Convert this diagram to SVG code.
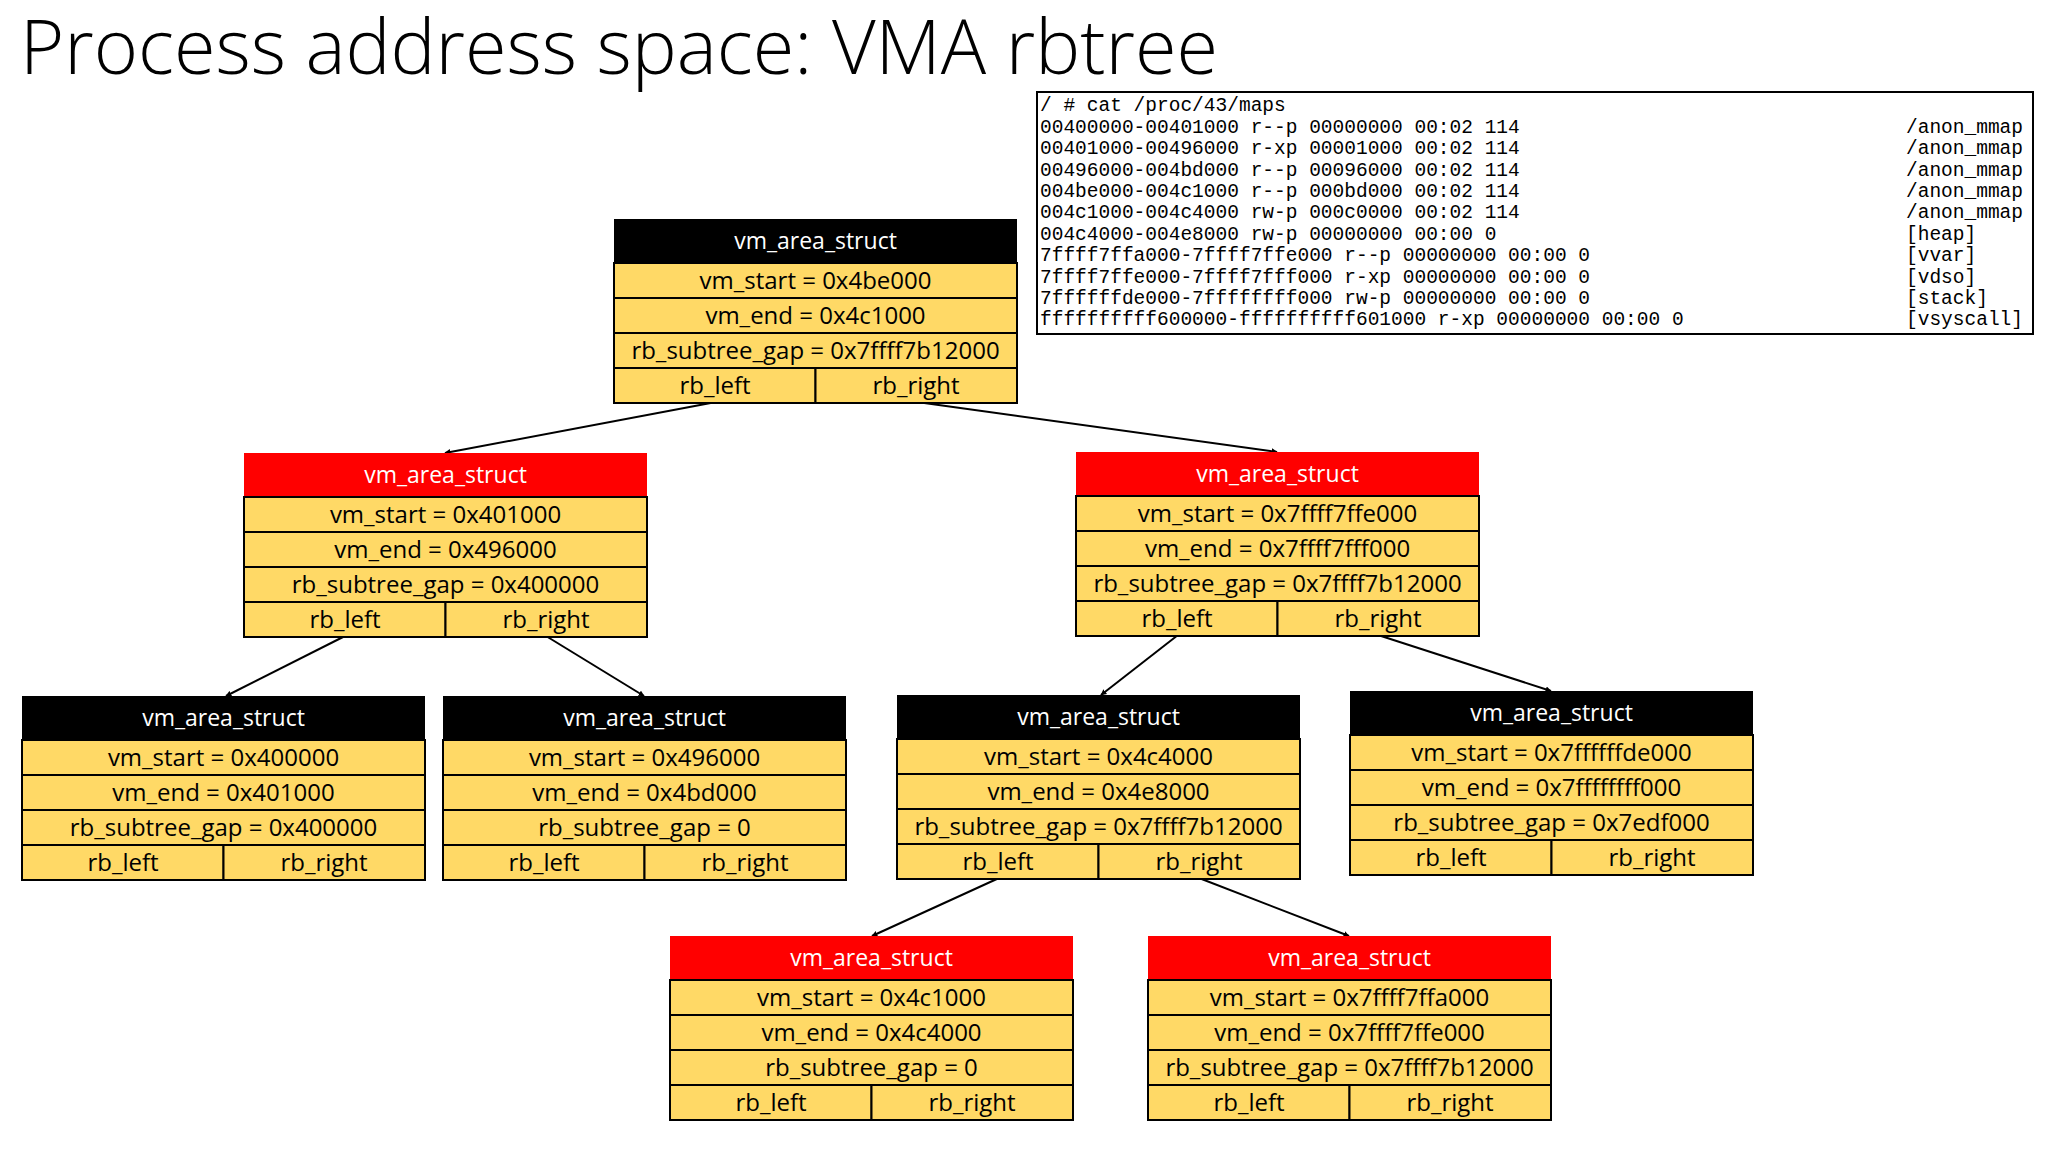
<svg xmlns="http://www.w3.org/2000/svg" width="2048" height="1152" viewBox="0 0 2048 1152">
<style>
.hb{fill:#000}.hr{fill:#ff0000}
.c{fill:#ffd966;stroke:#000;stroke-width:2}
.h{font-family:"Open Sans","Liberation Sans",sans-serif;font-size:23px;fill:#fff;text-anchor:middle}
.t{font-family:"Open Sans","Liberation Sans",sans-serif;font-size:24px;fill:#000;text-anchor:middle}
.m{font-family:"Liberation Mono",monospace;font-size:19.5px;fill:#000}
.e{stroke:#000;stroke-width:2;fill:none;marker-end:url(#a)}
</style>
<defs>
<marker id="a" viewBox="0 0 10 10" refX="9" refY="5" markerWidth="6" markerHeight="6" orient="auto" markerUnits="userSpaceOnUse"><path d="M0,0L10,5L0,10z" fill="#000"/></marker>
</defs>
<rect width="2048" height="1152" fill="#fff"/>
<text x="20" y="74" font-family="'Open Sans','Liberation Sans',sans-serif" font-weight="300" font-size="76" textLength="1198" lengthAdjust="spacingAndGlyphs">Process address space: VMA rbtree</text>
<g id="maps">
<rect x="1037" y="92" width="996" height="242" fill="#fff" stroke="#000" stroke-width="2"/>
<text class="m" x="1040" y="111">/ # cat /proc/43/maps</text>
<text class="m" x="1040" y="133">00400000-00401000 r--p 00000000 00:02 114</text>
<text class="m" x="1040" y="154">00401000-00496000 r-xp 00001000 00:02 114</text>
<text class="m" x="1040" y="176">00496000-004bd000 r--p 00096000 00:02 114</text>
<text class="m" x="1040" y="197">004be000-004c1000 r--p 000bd000 00:02 114</text>
<text class="m" x="1040" y="218">004c1000-004c4000 rw-p 000c0000 00:02 114</text>
<text class="m" x="1040" y="240">004c4000-004e8000 rw-p 00000000 00:00 0</text>
<text class="m" x="1040" y="261">7ffff7ffa000-7ffff7ffe000 r--p 00000000 00:00 0</text>
<text class="m" x="1040" y="283">7ffff7ffe000-7ffff7fff000 r-xp 00000000 00:00 0</text>
<text class="m" x="1040" y="304">7ffffffde000-7ffffffff000 rw-p 00000000 00:00 0</text>
<text class="m" x="1040" y="325">ffffffffff600000-ffffffffff601000 r-xp 00000000 00:00 0</text>
<text class="m" x="1906" y="133">/anon_mmap</text>
<text class="m" x="1906" y="154">/anon_mmap</text>
<text class="m" x="1906" y="176">/anon_mmap</text>
<text class="m" x="1906" y="197">/anon_mmap</text>
<text class="m" x="1906" y="218">/anon_mmap</text>
<text class="m" x="1906" y="240">[heap]</text>
<text class="m" x="1906" y="261">[vvar]</text>
<text class="m" x="1906" y="283">[vdso]</text>
<text class="m" x="1906" y="304">[stack]</text>
<text class="m" x="1906" y="325">[vsyscall]</text>
</g>
<g id="connectors">
<line class="e" x1="716" y1="402" x2="445" y2="453"/>
<line class="e" x1="917" y1="402" x2="1277" y2="452"/>
<line class="e" x1="345" y1="636" x2="226" y2="696"/>
<line class="e" x1="546" y1="636" x2="644" y2="696"/>
<line class="e" x1="1178" y1="635" x2="1101" y2="695"/>
<line class="e" x1="1378" y1="635" x2="1551" y2="691"/>
<line class="e" x1="999" y1="878" x2="872" y2="936"/>
<line class="e" x1="1199" y1="878" x2="1349" y2="936"/>
</g>
<g id="n1" transform="translate(614,219)">
<rect class="hb" width="403" height="44"/><text class="h" x="201.5" y="30">vm_area_struct</text>
<rect class="c" y="44" width="403" height="35"/><rect class="c" y="79" width="403" height="35"/><rect class="c" y="114" width="403" height="35"/><rect class="c" y="149" width="201.5" height="35"/><rect class="c" x="201.5" y="149" width="201.5" height="35"/>
<text class="t" x="201.5" y="70">vm_start = 0x4be000</text><text class="t" x="201.5" y="105">vm_end = 0x4c1000</text><text class="t" x="201.5" y="140">rb_subtree_gap = 0x7ffff7b12000</text><text class="t" x="101" y="175">rb_left</text><text class="t" x="302" y="175">rb_right</text>
</g>
<g id="n2" transform="translate(244,453)">
<rect class="hr" width="403" height="44"/><text class="h" x="201.5" y="30">vm_area_struct</text>
<rect class="c" y="44" width="403" height="35"/><rect class="c" y="79" width="403" height="35"/><rect class="c" y="114" width="403" height="35"/><rect class="c" y="149" width="201.5" height="35"/><rect class="c" x="201.5" y="149" width="201.5" height="35"/>
<text class="t" x="201.5" y="70">vm_start = 0x401000</text><text class="t" x="201.5" y="105">vm_end = 0x496000</text><text class="t" x="201.5" y="140">rb_subtree_gap = 0x400000</text><text class="t" x="101" y="175">rb_left</text><text class="t" x="302" y="175">rb_right</text>
</g>
<g id="n3" transform="translate(1076,452)">
<rect class="hr" width="403" height="44"/><text class="h" x="201.5" y="30">vm_area_struct</text>
<rect class="c" y="44" width="403" height="35"/><rect class="c" y="79" width="403" height="35"/><rect class="c" y="114" width="403" height="35"/><rect class="c" y="149" width="201.5" height="35"/><rect class="c" x="201.5" y="149" width="201.5" height="35"/>
<text class="t" x="201.5" y="70">vm_start = 0x7ffff7ffe000</text><text class="t" x="201.5" y="105">vm_end = 0x7ffff7fff000</text><text class="t" x="201.5" y="140">rb_subtree_gap = 0x7ffff7b12000</text><text class="t" x="101" y="175">rb_left</text><text class="t" x="302" y="175">rb_right</text>
</g>
<g id="n4" transform="translate(22,696)">
<rect class="hb" width="403" height="44"/><text class="h" x="201.5" y="30">vm_area_struct</text>
<rect class="c" y="44" width="403" height="35"/><rect class="c" y="79" width="403" height="35"/><rect class="c" y="114" width="403" height="35"/><rect class="c" y="149" width="201.5" height="35"/><rect class="c" x="201.5" y="149" width="201.5" height="35"/>
<text class="t" x="201.5" y="70">vm_start = 0x400000</text><text class="t" x="201.5" y="105">vm_end = 0x401000</text><text class="t" x="201.5" y="140">rb_subtree_gap = 0x400000</text><text class="t" x="101" y="175">rb_left</text><text class="t" x="302" y="175">rb_right</text>
</g>
<g id="n5" transform="translate(443,696)">
<rect class="hb" width="403" height="44"/><text class="h" x="201.5" y="30">vm_area_struct</text>
<rect class="c" y="44" width="403" height="35"/><rect class="c" y="79" width="403" height="35"/><rect class="c" y="114" width="403" height="35"/><rect class="c" y="149" width="201.5" height="35"/><rect class="c" x="201.5" y="149" width="201.5" height="35"/>
<text class="t" x="201.5" y="70">vm_start = 0x496000</text><text class="t" x="201.5" y="105">vm_end = 0x4bd000</text><text class="t" x="201.5" y="140">rb_subtree_gap = 0</text><text class="t" x="101" y="175">rb_left</text><text class="t" x="302" y="175">rb_right</text>
</g>
<g id="n6" transform="translate(897,695)">
<rect class="hb" width="403" height="44"/><text class="h" x="201.5" y="30">vm_area_struct</text>
<rect class="c" y="44" width="403" height="35"/><rect class="c" y="79" width="403" height="35"/><rect class="c" y="114" width="403" height="35"/><rect class="c" y="149" width="201.5" height="35"/><rect class="c" x="201.5" y="149" width="201.5" height="35"/>
<text class="t" x="201.5" y="70">vm_start = 0x4c4000</text><text class="t" x="201.5" y="105">vm_end = 0x4e8000</text><text class="t" x="201.5" y="140">rb_subtree_gap = 0x7ffff7b12000</text><text class="t" x="101" y="175">rb_left</text><text class="t" x="302" y="175">rb_right</text>
</g>
<g id="n7" transform="translate(1350,691)">
<rect class="hb" width="403" height="44"/><text class="h" x="201.5" y="30">vm_area_struct</text>
<rect class="c" y="44" width="403" height="35"/><rect class="c" y="79" width="403" height="35"/><rect class="c" y="114" width="403" height="35"/><rect class="c" y="149" width="201.5" height="35"/><rect class="c" x="201.5" y="149" width="201.5" height="35"/>
<text class="t" x="201.5" y="70">vm_start = 0x7ffffffde000</text><text class="t" x="201.5" y="105">vm_end = 0x7ffffffff000</text><text class="t" x="201.5" y="140">rb_subtree_gap = 0x7edf000</text><text class="t" x="101" y="175">rb_left</text><text class="t" x="302" y="175">rb_right</text>
</g>
<g id="n8" transform="translate(670,936)">
<rect class="hr" width="403" height="44"/><text class="h" x="201.5" y="30">vm_area_struct</text>
<rect class="c" y="44" width="403" height="35"/><rect class="c" y="79" width="403" height="35"/><rect class="c" y="114" width="403" height="35"/><rect class="c" y="149" width="201.5" height="35"/><rect class="c" x="201.5" y="149" width="201.5" height="35"/>
<text class="t" x="201.5" y="70">vm_start = 0x4c1000</text><text class="t" x="201.5" y="105">vm_end = 0x4c4000</text><text class="t" x="201.5" y="140">rb_subtree_gap = 0</text><text class="t" x="101" y="175">rb_left</text><text class="t" x="302" y="175">rb_right</text>
</g>
<g id="n9" transform="translate(1148,936)">
<rect class="hr" width="403" height="44"/><text class="h" x="201.5" y="30">vm_area_struct</text>
<rect class="c" y="44" width="403" height="35"/><rect class="c" y="79" width="403" height="35"/><rect class="c" y="114" width="403" height="35"/><rect class="c" y="149" width="201.5" height="35"/><rect class="c" x="201.5" y="149" width="201.5" height="35"/>
<text class="t" x="201.5" y="70">vm_start = 0x7ffff7ffa000</text><text class="t" x="201.5" y="105">vm_end = 0x7ffff7ffe000</text><text class="t" x="201.5" y="140">rb_subtree_gap = 0x7ffff7b12000</text><text class="t" x="101" y="175">rb_left</text><text class="t" x="302" y="175">rb_right</text>
</g>
</svg>
